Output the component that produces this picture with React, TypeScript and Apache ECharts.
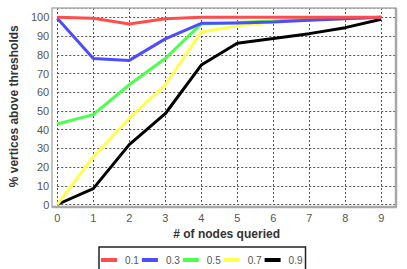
import React, { useEffect, useRef } from "react";
import * as echarts from "echarts";

const xValues = [0, 1, 2, 3, 4, 5, 6, 7, 8, 9];
const seriesNames = ["0.1", "0.3", "0.5", "0.7", "0.9"];
const s01 = [100, 99.5, 96.5, 99.3, 100, 100, 100, 100, 100, 100];
const s03 = [99.5, 78, 77, 88.5, 96.8, 97, 97.5, 98.5, 99.3, 100];
const s05 = [43, 48, 64, 78, 96.5, 97.3, 98, 99, 99.5, 100];
const s07 = [0, 25.5, 46, 64, 92.2, 95.5, 97.5, 98.8, 99.3, 100];
const s09 = [0, 8.5, 32, 48.5, 74.5, 86.2, 88.7, 91.3, 94.5, 99];
const yTicks = [0, 10, 20, 30, 40, 50, 60, 70, 80, 90, 100];

const colors = ["#ff4d4d", "#4d4dff", "#4dff4d", "#ffff4d", "#000000"];
const allData = [s01, s03, s05, s07, s09];

export default function App() {
  const ref = useRef<HTMLDivElement>(null);
  useEffect(() => {
    if (!ref.current) return;
    const chart = echarts.init(ref.current, null, { renderer: "svg" });
    const font = "'Liberation Sans', Arial, sans-serif";
    chart.setOption({
      animation: false,
      backgroundColor: "#ffffff",
      grid: { left: 55, top: 8, right: 11, bottom: 64.5, containLabel: false },
      graphic: [
        {
          type: "rect",
          shape: { x: 52, y: 8, width: 344, height: 199 },
          style: { fill: "none", stroke: "#b0b0b0", lineWidth: 1.5 },
          z: 1,
        },
        {
          type: "line",
          shape: { x1: 396, y1: 8, x2: 396, y2: 207 },
          style: { stroke: "#a8a8a8", lineWidth: 2.5 },
          z: 1,
        },
        {
          type: "line",
          shape: { x1: 52, y1: 207, x2: 397, y2: 207 },
          style: { stroke: "#a8a8a8", lineWidth: 2.5 },
          z: 1,
        },
      ],
      xAxis: {
        type: "value",
        min: 0,
        max: 9.41,
        interval: 1,
        name: "# of nodes queried",
        nameLocation: "middle",
        nameGap: 23,
        nameTextStyle: { fontFamily: font, fontSize: 12, fontWeight: "bold", color: "#333" },
        axisLine: { show: false },
        axisTick: { show: false },
        axisLabel: {
          fontFamily: font,
          fontSize: 11,
          color: "#555",
          margin: 8,
          formatter: (v: number) => (Number.isInteger(v) && xValues.includes(v) ? String(v) : ""),
        },
        splitLine: { show: true, lineStyle: { color: "#555", type: [2, 2], width: 1 } },
      },
      yAxis: {
        type: "value",
        min: 0,
        max: 105,
        interval: 10,
        name: "% vertices above thresholds",
        nameLocation: "middle",
        nameGap: 31,
        nameTextStyle: { fontFamily: font, fontSize: 12, fontWeight: "bold", color: "#333" },
        axisLine: { show: false },
        axisTick: { show: false },
        axisLabel: {
          fontFamily: font,
          fontSize: 11,
          color: "#555",
          margin: 8,
          formatter: (v: number) => (yTicks.includes(v) ? String(v) : ""),
        },
        splitLine: { show: true, lineStyle: { color: "#555", type: [2, 2], width: 1 } },
      },
      legend: {
        left: 99,
        top: 247,
        orient: "horizontal",
        data: seriesNames,
        icon: "rect",
        itemWidth: 16,
        itemHeight: 4,
        itemGap: 3,
        padding: [8, 3, 8, 2],
        borderColor: "#222",
        borderWidth: 1.5,
        borderRadius: 0,
        textStyle: { fontFamily: font, fontSize: 10, color: "#555", padding: [0, 0, 0, 3] },
      },
      series: seriesNames.map((name, i) => ({
        name,
        type: "line",
        data: xValues.map((x, j) => [x, allData[i][j]]),
        showSymbol: false,
        symbol: "none",
        lineStyle: { color: colors[i], width: 3 },
        itemStyle: { color: colors[i] },
        z: 10 - i,
      })),
    });
    return () => chart.dispose();
  }, []);
  return <div ref={ref} style={{ width: 407, height: 269, position: "absolute", left: 0, top: 0 }} />;
}
